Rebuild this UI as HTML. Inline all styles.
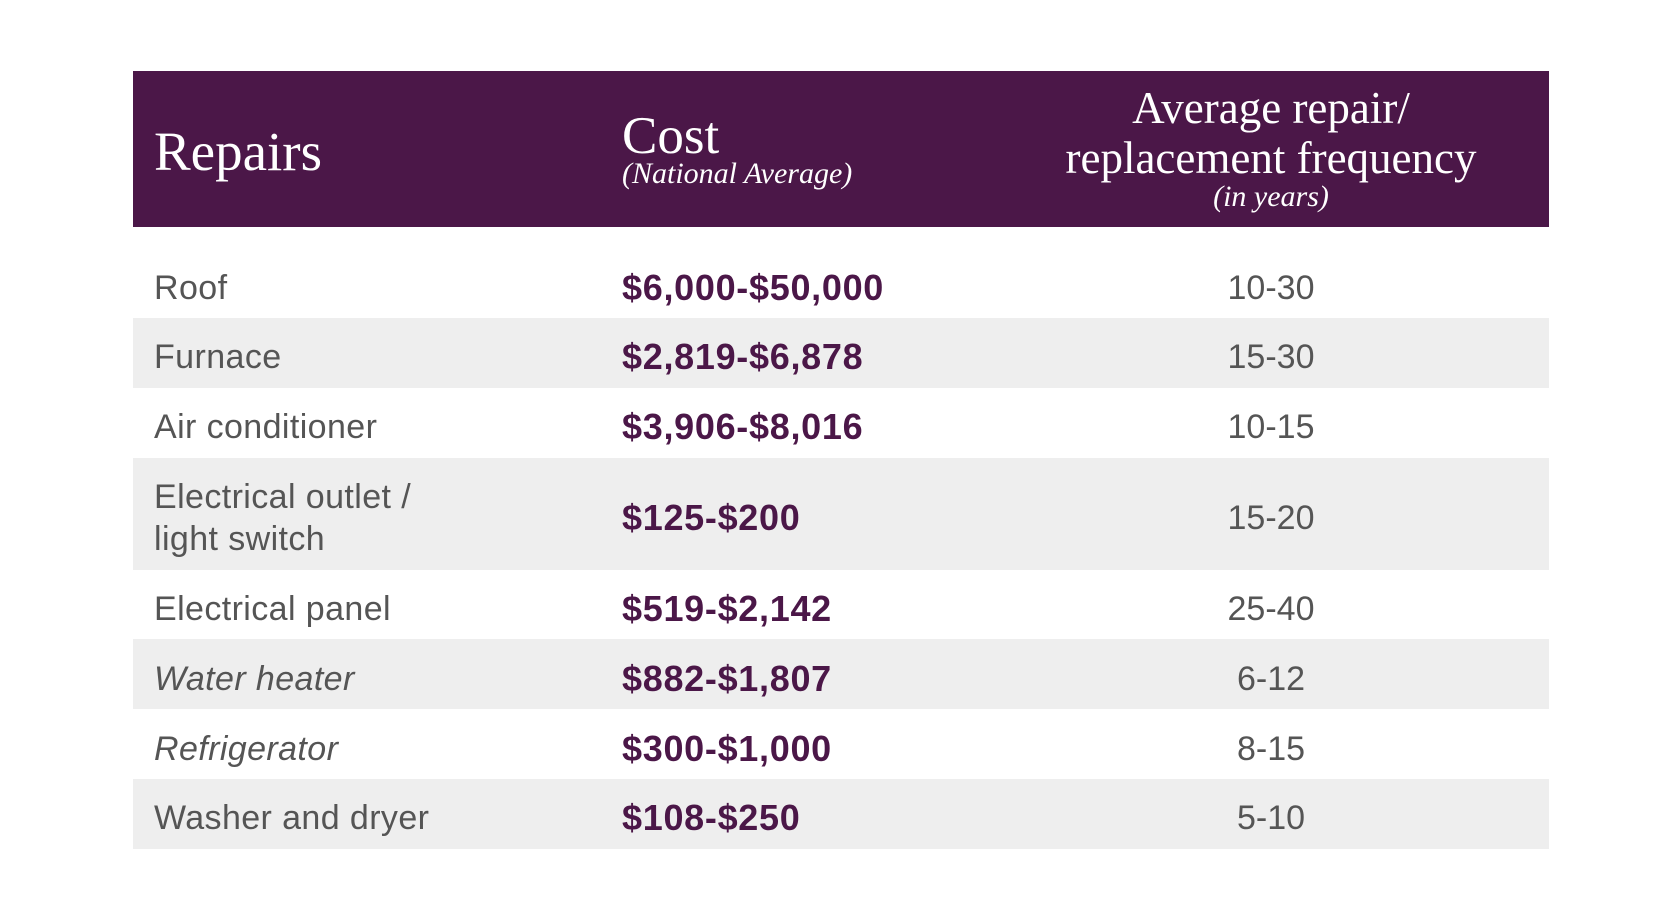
<!DOCTYPE html>
<html><head><meta charset="utf-8"><style>
body{margin:0;width:1667px;height:919px;background:#fff;position:relative;overflow:hidden;font-family:"Liberation Sans",sans-serif}
.hd{position:absolute;left:133px;top:71px;width:1416px;height:156px;background:#4b1748}
.s{position:absolute;font-family:"Liberation Serif",serif;color:#fff;white-space:nowrap;line-height:1}
.r{position:absolute;left:133px;width:1416px}
.g{background:#eeeeee}
.t{position:absolute;color:#555;font-size:34px;letter-spacing:0.4px;line-height:1;white-space:nowrap}
.c{position:absolute;color:#4b1748;font-size:36px;letter-spacing:0.7px;font-weight:bold;line-height:1;white-space:nowrap}
.y{position:absolute;color:#555;font-size:34px;line-height:1;width:300px;left:1121px;text-align:center}
</style></head><body>
<div class="hd"></div>
<div class="s" style="left:154px;top:124px;font-size:55px">Repairs</div>
<div class="s" style="left:622px;top:110px;font-size:53px">Cost</div>
<div class="s" style="left:622px;top:159px;font-size:30px;font-style:italic">(National Average)</div>
<div class="s" style="left:971px;top:86px;width:600px;text-align:center;font-size:45px">Average repair/</div>
<div class="s" style="left:971px;top:136px;width:600px;text-align:center;font-size:45px">replacement frequency</div>
<div class="s" style="left:971px;top:182px;width:600px;text-align:center;font-size:30px;font-style:italic">(in years)</div>

<div class="r g" style="top:318px;height:70px"></div>
<div class="r g" style="top:458px;height:112px"></div>
<div class="r g" style="top:639px;height:70px"></div>
<div class="r g" style="top:779px;height:70px"></div>

<div class="t" style="left:154px;top:271px">Roof</div>
<div class="c" style="left:622px;top:270px">$6,000-$50,000</div>
<div class="y" style="top:271px">10-30</div>

<div class="t" style="left:154px;top:340px">Furnace</div>
<div class="c" style="left:622px;top:339px">$2,819-$6,878</div>
<div class="y" style="top:340px">15-30</div>

<div class="t" style="left:154px;top:410px">Air conditioner</div>
<div class="c" style="left:622px;top:409px">$3,906-$8,016</div>
<div class="y" style="top:410px">10-15</div>

<div class="t" style="left:154px;top:480px">Electrical outlet /</div>
<div class="t" style="left:154px;top:522px">light switch</div>
<div class="c" style="left:622px;top:500px">$125-$200</div>
<div class="y" style="top:501px">15-20</div>

<div class="t" style="left:154px;top:592px">Electrical panel</div>
<div class="c" style="left:622px;top:591px">$519-$2,142</div>
<div class="y" style="top:592px">25-40</div>

<div class="t" style="left:154px;top:662px;font-style:italic">Water heater</div>
<div class="c" style="left:622px;top:661px">$882-$1,807</div>
<div class="y" style="top:662px">6-12</div>

<div class="t" style="left:154px;top:732px;font-style:italic">Refrigerator</div>
<div class="c" style="left:622px;top:731px">$300-$1,000</div>
<div class="y" style="top:732px">8-15</div>

<div class="t" style="left:154px;top:801px">Washer and dryer</div>
<div class="c" style="left:622px;top:800px">$108-$250</div>
<div class="y" style="top:801px">5-10</div>
</body></html>
